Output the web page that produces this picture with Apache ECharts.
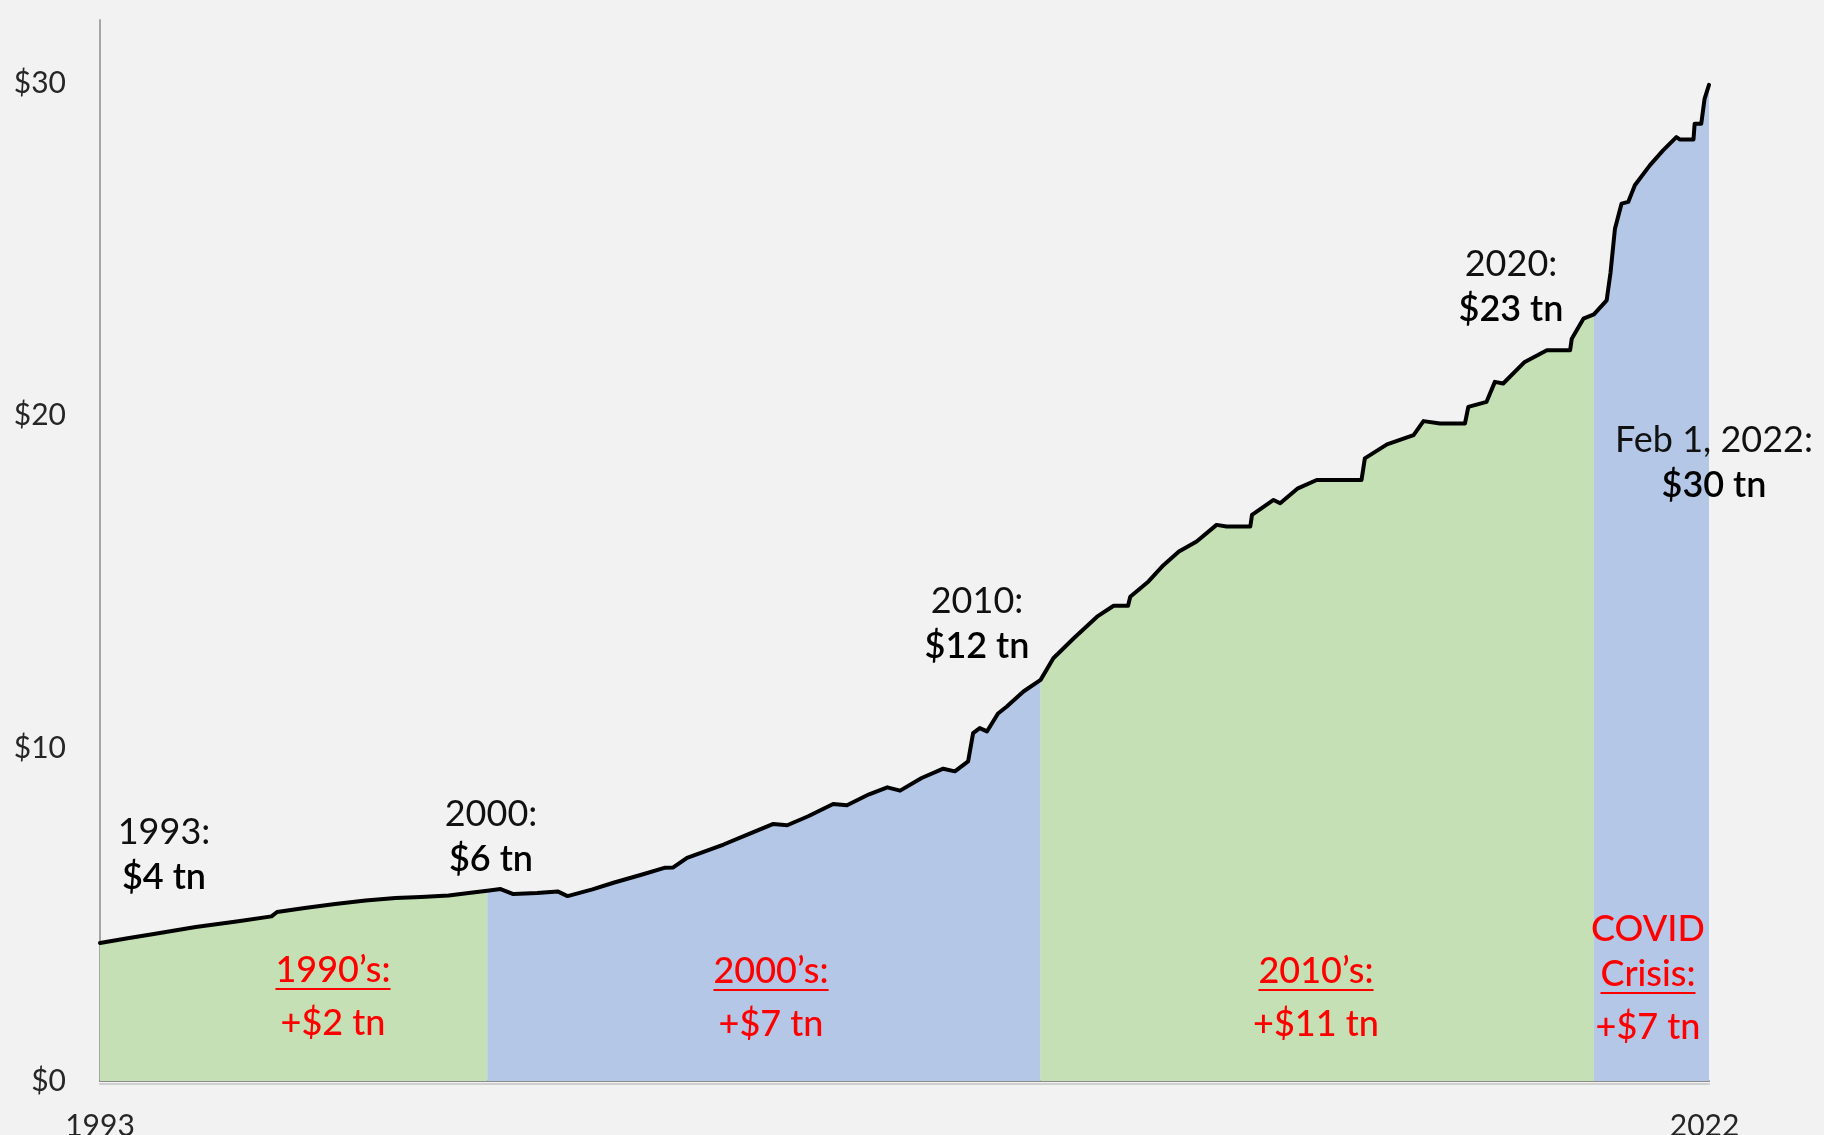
<!DOCTYPE html>
<html>
<head>
<meta charset="utf-8">
<title>US national debt 1993-2022</title>
<script src="https://cdn.jsdelivr.net/npm/echarts@6/dist/echarts.min.js"></script>
<style>
  html, body { margin: 0; padding: 0; background: #f2f2f2; }
  #chart { width: 1824px; height: 1135px; }
</style>
</head>
<body>
<div id="chart"></div>
<script>
// debt outstanding, $ trillion (decimal year)
const years = [
  1993.00, 1993.50, 1994.00, 1994.73, 1995.50, 1996.10, 1996.20, 1996.70, 1997.25, 1997.80,
  1998.34, 1998.80, 1999.30, 1999.70, 2000.00, 2000.24, 2000.47, 2000.90, 2001.27, 2001.45,
  2001.90, 2002.28, 2002.80, 2003.20, 2003.36, 2003.61, 2004.27, 2004.70, 2005.17, 2005.42,
  2005.80, 2006.25, 2006.50, 2006.90, 2007.23, 2007.46, 2007.85, 2008.24, 2008.45, 2008.69,
  2008.78, 2008.90, 2009.03, 2009.23, 2009.39, 2009.69, 2010.00, 2010.23, 2010.60, 2011.02,
  2011.32, 2011.58, 2011.62, 2011.95, 2012.22, 2012.50, 2012.82, 2013.18, 2013.36, 2013.79,
  2013.82, 2014.21, 2014.33, 2014.65, 2014.99, 2015.80, 2015.86, 2016.26, 2016.74, 2016.92,
  2017.22, 2017.67, 2017.73, 2018.06, 2018.21, 2018.36, 2018.75, 2019.15, 2019.57, 2019.60,
  2019.81, 2020.00, 2020.23, 2020.30, 2020.38, 2020.50, 2020.62, 2020.74, 2021.01, 2021.25,
  2021.49, 2021.55, 2021.80, 2021.82, 2021.94, 2022.00, 2022.08
];
const debt = [
  4.15, 4.29, 4.43, 4.63, 4.80, 4.95, 5.08, 5.20, 5.32, 5.43,
  5.50, 5.53, 5.58, 5.66, 5.72, 5.77, 5.62, 5.65, 5.70, 5.56,
  5.76, 5.96, 6.21, 6.41, 6.42, 6.71, 7.11, 7.41, 7.73, 7.69,
  7.96, 8.33, 8.29, 8.62, 8.83, 8.73, 9.11, 9.39, 9.31, 9.61,
  10.46, 10.61, 10.51, 11.05, 11.26, 11.71, 12.06, 12.71, 13.31, 13.96,
  14.29, 14.29, 14.56, 15.02, 15.51, 15.92, 16.22, 16.72, 16.67, 16.67,
  17.02, 17.47, 17.37, 17.82, 18.07, 18.07, 18.72, 19.14, 19.42, 19.84,
  19.77, 19.77, 20.27, 20.42, 21.02, 20.97, 21.62, 21.97, 21.97, 22.32,
  22.92, 23.05, 23.47, 24.30, 25.62, 26.38, 26.43, 26.93, 27.53, 27.98,
  28.38, 28.31, 28.31, 28.78, 28.78, 29.53, 29.95
];

// shaded periods (start, end)
const periodStarts = [1993, 2000, 2010, 2020];
const periodEnds = [2000, 2010, 2020, 2022.08];

const xTickLabels = [1993, 2022];

const levelYears = ['1993:', '2000:', '2010:', '2020:', 'Feb 1, 2022:'];
const levelValues = ['$4 tn', '$6 tn', '$12 tn', '$23 tn', '$30 tn'];
const decadeNames = ['1990\u2019s:', '2000\u2019s:', '2010\u2019s:', 'Crisis:'];
const decadeChanges = ['+$2 tn', '+$7 tn', '+$11 tn', '+$7 tn'];

// ---- styling / layout ----
const FONT = 'Lato, "Noto Sans", sans-serif';
const periodColors = ['#c5e0b4', '#b4c7e7', '#c5e0b4', '#b4c7e7'];
const levelPos = [[164, 832], [491, 814], [977, 601], [1511, 264], [1714, 440]];
const decadePos = [[333, 970], [771, 971], [1316, 971], [1648, 974]];
const LINE_GAP = 45;

const points = years.map((y, i) => [y, debt[i]]);

function measure(text, font) {
  const ctx = document.createElement('canvas').getContext('2d');
  ctx.font = font;
  return ctx.measureText(text).width;
}

const areaSeries = periodStarts.map((s, i) => ({
  type: 'line',
  data: points.filter(p => p[0] >= s && p[0] <= periodEnds[i]),
  showSymbol: false,
  lineStyle: { width: 0, opacity: 0 },
  areaStyle: { color: periodColors[i], opacity: 1 },
  silent: true,
  z: 1
}));

const graphics = [];
const yearFont = '400 36px ' + FONT;
const valueFont = '600 36px ' + FONT;
const redFont = '500 36px ' + FONT;

levelPos.forEach(([x, y], i) => {
  graphics.push({ type: 'text', x: x, y: y, z: 100,
    style: { text: levelYears[i], font: yearFont, fill: '#111', textAlign: 'center', textVerticalAlign: 'middle' } });
  graphics.push({ type: 'text', x: x, y: y + LINE_GAP, z: 100,
    style: { text: levelValues[i], font: valueFont, fill: '#000', textAlign: 'center', textVerticalAlign: 'middle' } });
});

decadePos.forEach(([x, y], i) => {
  const w = measure(decadeNames[i], redFont);
  graphics.push({ type: 'text', x: x, y: y, z: 100,
    style: { text: decadeNames[i], font: redFont, fill: '#ff0000', textAlign: 'center', textVerticalAlign: 'middle' } });
  graphics.push({ type: 'line', z: 100,
    shape: { x1: x - w / 2, y1: y + 19, x2: x + w / 2, y2: y + 19 },
    style: { stroke: '#ff0000', lineWidth: 2 } });
  graphics.push({ type: 'text', x: x, y: y + 53, z: 100,
    style: { text: decadeChanges[i], font: redFont, fill: '#ff0000', textAlign: 'center', textVerticalAlign: 'middle' } });
});
// extra first line of the covid note
graphics.push({ type: 'text', x: decadePos[3][0], y: decadePos[3][1] - LINE_GAP, z: 100,
  style: { text: 'COVID', font: redFont, fill: '#ff0000', textAlign: 'center', textVerticalAlign: 'middle' } });

const chart = echarts.init(document.getElementById('chart'));
chart.setOption({
  backgroundColor: '#f2f2f2',
  animation: false,
  grid: { left: 100, right: 115, top: 20, bottom: 54, containLabel: false, outerBoundsMode: 'none' },
  xAxis: {
    type: 'value',
    min: 1993,
    max: 2022.08,
    axisLine: { show: true, lineStyle: { color: '#8c8c8c', width: 2, shadowColor: '#d0d0d0', shadowOffsetY: 3 } },
    axisTick: { show: false },
    splitLine: { show: false },
    axisLabel: {
      customValues: xTickLabels,
      formatter: v => String(Math.round(v)),
      fontFamily: FONT,
      fontSize: 30,
      color: '#262626',
      margin: 30
    }
  },
  yAxis: {
    type: 'value',
    min: 0,
    max: 31.9,
    interval: 10,
    axisLine: { show: true, lineStyle: { color: '#a6a6a6', width: 2 } },
    axisTick: { show: false },
    splitLine: { show: false },
    axisLabel: {
      showMaxLabel: false,
      formatter: v => '$' + v,
      fontFamily: FONT,
      fontSize: 30,
      color: '#262626',
      margin: 34
    }
  },
  series: [
    ...areaSeries,
    {
      type: 'line',
      data: points,
      showSymbol: false,
      lineStyle: { color: '#000', width: 4, join: 'round', cap: 'round' },
      z: 3
    }
  ],
  graphic: graphics
});
</script>
</body>
</html>
